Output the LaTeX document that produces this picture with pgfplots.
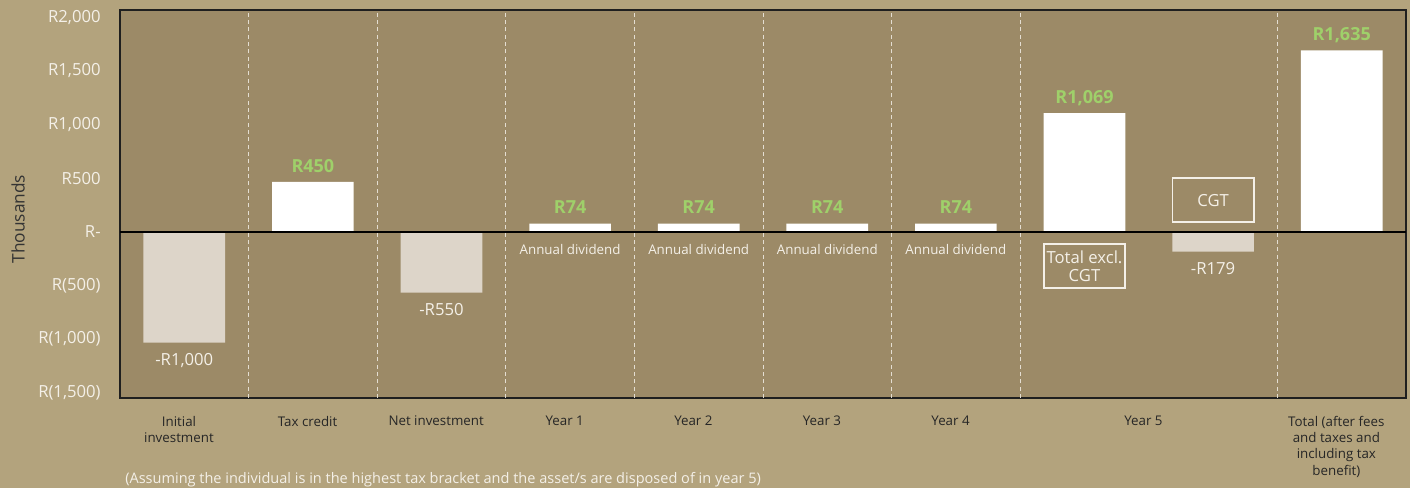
\documentclass[border=0pt]{standalone}
\usepackage{fontspec}
\setmainfont{Open Sans}
\usepackage{pgfplots}
\usepackage{pgfplotstable}
\pgfplotsset{compat=1.18}

\definecolor{outerbg}{HTML}{B3A37D}
\definecolor{plotbg}{HTML}{9C8A67}
\definecolor{negbar}{HTML}{DDD5C9}
\definecolor{labgreen}{HTML}{9FD06A}
\definecolor{softwhite}{HTML}{F4F0E8}
\definecolor{gridc}{HTML}{E4DED2}
\definecolor{darktext}{HTML}{262626}

% positive cash flows (thousands)
\pgfplotstableread{
x y
1 450
3 74
4 74
5 74
6 74
7 1069
9 1635
}\posdata
% negative cash flows (thousands)
\pgfplotstableread{
x y
0 -1000
2 -550
8 -179
}\negdata

\begin{document}
\begin{tikzpicture}
\fill[outerbg] (0,0) rectangle (1057.5pt,366pt);
\begin{axis}[
    at={(90pt,67.5pt)}, anchor=south west,
    scale only axis, width=964.5pt, height=291pt,
    xmin=-0.5, xmax=9.5, ymin=-1500, ymax=2000,
    axis background/.style={fill=plotbg},
    axis line style={draw=black!88, line width=1.5pt},
    axis on top,
    tick style={draw=none},
    ytick={-1500,-1000,...,2000},
    yticklabels={{R(1,500)},{R(1,000)},{R(500)},{R-},{R500},{R1,000},{R1,500},{R2,000}},
    yticklabel style={font=\fontsize{12.5}{15}\selectfont, text=softwhite, xshift=-11pt,
        yshift={-0.0027pt*\tick}},
    extra y ticks={0}, extra y tick labels={},
    extra y tick style={grid=major, major grid style={draw=black, line width=1.5pt}},
    xtick={0,1,2,3,4,5,6,7.5,9},
    xticklabels={{Initial\\investment},{Tax credit},{Net investment},{Year 1},{Year 2},{Year 3},{Year 4},{Year 5},{Total (after fees\\and taxes and\\including tax\\benefit)}},
    xticklabel style={font=\fontsize{10}{12.2}\selectfont, text=darktext, align=center, anchor=north, yshift=-10pt, xshift=-4pt},
    extra x ticks={0.5,1.5,2.5,3.5,4.5,5.5,6.5,8.5}, extra x tick labels={},
    extra x tick style={grid=major, major grid style={draw=gridc, dash pattern=on 3pt off 2.5pt, line width=0.7pt}},
    ylabel={Thousands},
    ylabel style={at={(axis description cs:-0.0793,0.461)}, anchor=center, font=\fontsize{13}{15}\selectfont, text=black!80},
    /pgf/number format/1000 sep={,},
    /pgf/number format/fixed, /pgf/number format/precision=0,
    /pgf/number format/assume math mode=true,
]
\addplot[ybar, bar width=0.635, bar shift=0pt, fill=white, draw=none,
    point meta=y,
    nodes near coords={R\pgfmathprintnumber{\pgfplotspointmeta}},
    every node near coord/.append style={anchor=base, yshift=7.2pt,
        font=\fontsize{13.5}{16}\selectfont\bfseries, text=labgreen}]
    table[x=x, y=y]{\posdata};
\addplot[ybar, bar width=0.635, bar shift=0pt, fill=negbar, draw=none,
    point meta={-\thisrow{y}},
    nodes near coords={-R\pgfmathprintnumber{\pgfplotspointmeta}},
    every node near coord/.append style={anchor=base, yshift=-17.2pt,
        font=\fontsize{12.5}{15}\selectfont, text=softwhite}]
    table[x=x, y=y]{\negdata};

\pgfplotsinvokeforeach{3,4,5,6}{
  \node[anchor=base, yshift=-17pt, font=\fontsize{10}{12}\selectfont, text=softwhite]
    at (axis cs:#1,0) {Annual dividend};
}
\node[draw=softwhite, line width=1.1pt, minimum width=61pt, minimum height=33pt,
      font=\fontsize{12.5}{15}\selectfont, text=softwhite]
  at (axis cs:8,284) {CGT};
\node[draw=softwhite, line width=1.1pt, minimum width=61pt, minimum height=33pt,
      align=center, inner sep=1pt, font=\fontsize{12.5}{14}\selectfont, text=softwhite]
  at (axis cs:7,-311) {Total excl.\\CGT};
\end{axis}
\node[anchor=west, inner xsep=0pt, font=\fontsize{10.9}{13}\selectfont, text=softwhite]
  at (93.75pt,6pt) {(Assuming the individual is in the highest tax bracket and the asset/s are disposed of in year 5)};
\end{tikzpicture}
\end{document}
